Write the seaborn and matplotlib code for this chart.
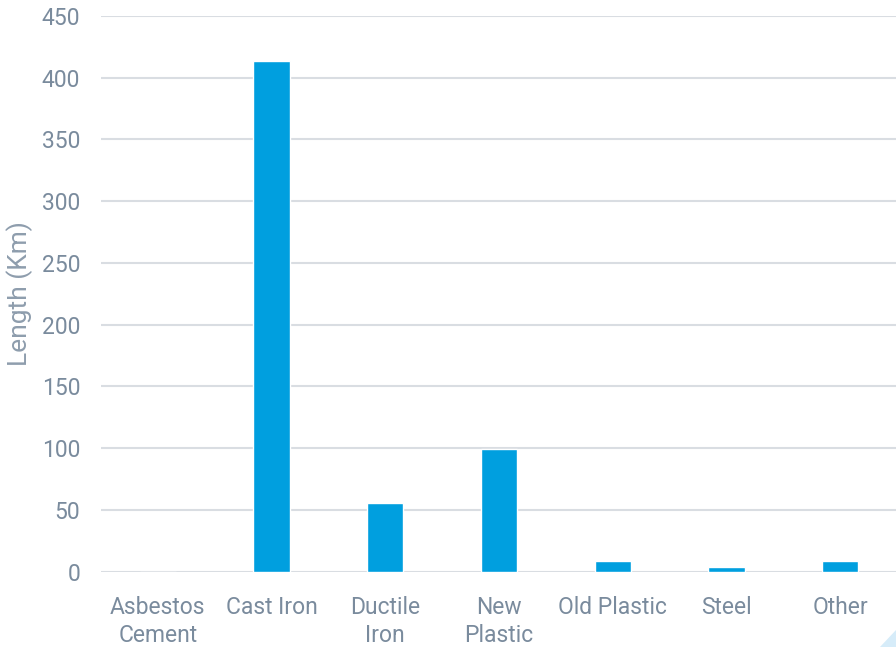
import matplotlib
matplotlib.use("Agg")
import matplotlib.pyplot as plt
from matplotlib.patches import Polygon
import seaborn as sns
import pandas as pd

# Main length by material
materials = ["Asbestos\nCement", "Cast Iron", "Ductile\nIron", "New\nPlastic",
             "Old Plastic", "Steel", "Other"]
length_km = [0, 413.5, 55.6, 99.3, 8.7, 3.8, 8.7]
y_ticks = [0, 50, 100, 150, 200, 250, 300, 350, 400, 450]

BAR = "#009FDF"
TEXT = "#7A8B9D"
LABEL = "#8E9DAD"
GRID = "#D9DDE2"

sns.set_theme(style="white")
plt.rcParams["font.family"] = ["Roboto", "DejaVu Sans"]

df = pd.DataFrame({"material": materials, "length": length_km})

fig = plt.figure(figsize=(8.96, 6.47), dpi=100)
ax = fig.add_axes([0.1127, 0.1164, 0.8885, 0.8589])

sns.barplot(data=df, x="material", y="length", color=BAR, width=0.32,
            saturation=1, ax=ax, zorder=3)

ax.set_ylim(0, 450)
ax.set_yticks(y_ticks)
ax.set_xlim(-0.5, len(materials) - 0.5)
ax.yaxis.grid(True, color=GRID, linewidth=1.5, zorder=0)
ax.set_axisbelow(True)
for s in ax.spines.values():
    s.set_visible(False)
ax.axhline(0, color=GRID, linewidth=1.8, zorder=2)

ax.tick_params(axis="both", length=0, labelsize=16.5, labelcolor=TEXT)
ax.tick_params(axis="y", pad=15)
ax.tick_params(axis="x", pad=17.5)
for lab in ax.get_xticklabels() + ax.get_yticklabels():
    lab.set_fontweight("normal")
for lab in ax.get_xticklabels():
    lab.set_linespacing(1.3)

ax.set_xlabel("")
ax.set_ylabel("Length (Km)", fontsize=19, color=LABEL, fontweight="normal",
              labelpad=6)

# corner accent
fig.patches.append(Polygon([[0.982, 0.0], [1.0, 0.0], [1.0, 0.027]],
                           closed=True, transform=fig.transFigure,
                           facecolor="#D6ECF9", edgecolor="none"))

fig.savefig("out.png", dpi=100)
